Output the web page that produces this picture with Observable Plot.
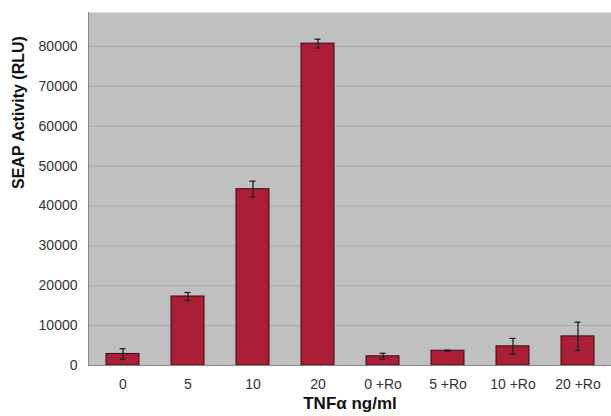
<!DOCTYPE html>
<html><head><meta charset="utf-8">
<script src="https://cdn.jsdelivr.net/npm/d3@7"></script>
<script src="https://cdn.jsdelivr.net/npm/@observablehq/plot@0.6"></script>
<style>body{margin:0;background:#fff;}</style>
</head><body><div id="chart"></div>
<script>
const categories = ["0", "5", "10", "20", "0 +Ro", "5 +Ro", "10 +Ro", "20 +Ro"];
const means = [2900, 17300, 44200, 80700, 2300, 3700, 4800, 7300];
const errors = [1300, 1000, 2000, 1100, 750, 150, 2000, 3550];
const yTicks = [0, 10000, 20000, 30000, 40000, 50000, 60000, 70000, 80000];
const yTitle = "SEAP Activity (RLU)";
const xTitle = "TNFα ng/ml";

const data = categories.map((c, i) => ({
  category: c, mean: means[i], lo: means[i] - errors[i], hi: means[i] + errors[i]
}));

const plot = Plot.plot({
  width: 611, height: 416,
  marginLeft: 88, marginRight: 0, marginTop: 12, marginBottom: 51,
  style: {fontFamily: "'Liberation Sans', Arial, sans-serif", fontSize: "14px", color: "#333", background: "#fff"},
  x: {domain: categories, paddingInner: 0.5, paddingOuter: 0.25, label: null},
  y: {domain: [0, 88500], label: null},
  marks: [
    Plot.frame({fill: "#c0c0c0", stroke: null}),
    Plot.gridY(yTicks, {stroke: "#a9a9a9", strokeOpacity: 1, strokeWidth: 1}),
    Plot.barY(data, {x: "category", y: "mean", fill: "#aa1e36", stroke: "#3a0a12", strokeWidth: 1}),
    Plot.ruleX(data, {x: "category", y1: "lo", y2: "hi", stroke: "#222", strokeWidth: 1.3}),
    Plot.tickY(data, {x: "category", y: "hi", insetLeft: 13.5, insetRight: 13.5, stroke: "#222", strokeWidth: 1.3}),
    Plot.tickY(data, {x: "category", y: "lo", insetLeft: 13.5, insetRight: 13.5, stroke: "#222", strokeWidth: 1.3}),
    Plot.ruleY([0], {stroke: "#888"}),
    Plot.frame({anchor: "left", stroke: "#888"}),
    Plot.axisY(yTicks, {tickSize: 0, tickPadding: 11, fontSize: 14, fill: "#333", tickFormat: d => String(d), label: null}),
    Plot.axisX({tickSize: 0, tickPadding: 14, fontSize: 14, fill: "#333", label: null}),
    Plot.text([yTitle], {frameAnchor: "left", dx: -70, rotate: -90, fontWeight: "bold", fontSize: 16, fill: "#111"}),
    Plot.text([xTitle], {frameAnchor: "bottom", dy: 43, fontWeight: "bold", fontSize: 17, fill: "#111"})
  ]
});
document.getElementById("chart").appendChild(plot);
</script>
</body></html>
